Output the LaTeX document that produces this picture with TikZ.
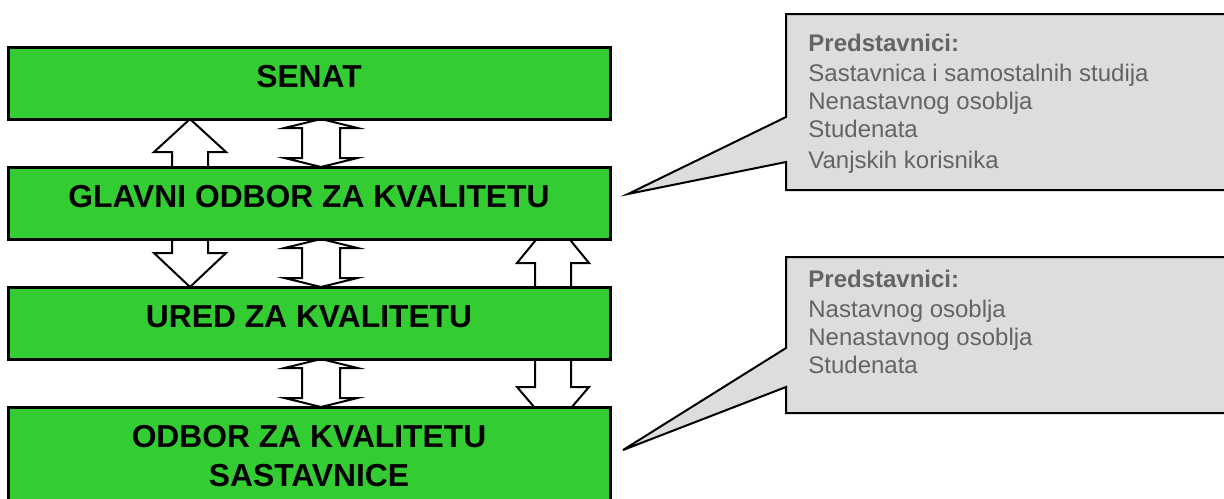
\documentclass[tikz,border=0pt]{standalone}
\usepackage{fontspec}
\setmainfont{Liberation Sans}
\usepackage{xcolor}
\usetikzlibrary{positioning}
\usetikzlibrary{calc}
\usetikzlibrary{backgrounds}

\definecolor{boxgreen}{RGB}{51,204,51}
\definecolor{notegray}{RGB}{221,221,221}
\definecolor{notetext}{RGB}{100,100,100}

% hollow block arrows: #1 base, #2 tip, #3 head length
\newcommand{\blockarrow}[3]{%
  \draw[barrow] ($(#1)+(-9pt,0)$) -- ($(#2)!#3!(#1)+(-9pt,0)$)
    -- ($(#2)!#3!(#1)+(-18pt,0)$) -- (#2)
    -- ($(#2)!#3!(#1)+(18pt,0)$) -- ($(#2)!#3!(#1)+(9pt,0)$)
    -- ($(#1)+(9pt,0)$) -- cycle;}
% #1 top tip, #2 bottom tip, #3 head length
\newcommand{\blockboth}[3]{%
  \draw[barrow] (#1) -- ($(#1)!#3!(#2)+(18.25pt,0)$) -- ($(#1)!#3!(#2)+(9.5pt,0)$)
    -- ($(#2)!#3!(#1)+(9.5pt,0)$) -- ($(#2)!#3!(#1)+(18.25pt,0)$) -- (#2)
    -- ($(#2)!#3!(#1)+(-18.25pt,0)$) -- ($(#2)!#3!(#1)+(-9.5pt,0)$)
    -- ($(#1)!#3!(#2)+(-9.5pt,0)$) -- ($(#1)!#3!(#2)+(-18.25pt,0)$) -- cycle;}

\begin{document}
\begin{tikzpicture}[
x=0.5pt, y=-0.5pt,
box/.style={rectangle, draw=black, line width=1.5pt, fill=boxgreen, outer sep=0pt,
  minimum width=301pt, inner ysep=0pt, text height=20pt, text depth=16pt,
  font=\fontsize{15.9pt}{19.5pt}\selectfont\bfseries, align=center},
barrow/.style={draw=black, line width=1pt, fill=white, line join=miter},
note/.style={draw=black, line width=1pt, fill=notegray},
notetext/.style={text=notetext, inner sep=0pt, align=left,
  font=\fontsize{12pt}{14pt}\selectfont},
]
\useasboundingbox (0,0) rectangle (1224,498);
\clip (0,0) rectangle (1224,498);

%Boxes
\node[box] (senat) at (309,83) {SENAT};
\node[box, below=24pt of senat] (glavni) {GLAVNI ODBOR ZA KVALITETU};
\node[box, below=24pt of glavni] (ured) {URED ZA KVALITETU};
\node[box, below=24pt of ured, text height=39.5pt, text depth=22.5pt] (odbor)
  {ODBOR ZA KVALITETU\\SASTAVNICE};

%Arrows
\coordinate (xl) at (190,0);
\coordinate (xm) at (321,0);
\coordinate (xr) at (553,0);
\coordinate (upr) at ($(glavni.south -| xr)+(0,-20)$);
\coordinate (dnr) at ($(odbor.north -| xr)+(0,22)$);
\begin{scope}[on background layer]
\blockarrow{glavni.north -| xl}{senat.south -| xl}{16.5pt}
\blockarrow{glavni.south -| xl}{ured.north -| xl}{17pt}
\blockboth{senat.south -| xm}{glavni.north -| xm}{4.5pt}
\blockboth{glavni.south -| xm}{ured.north -| xm}{4.5pt}
\blockboth{ured.south -| xm}{odbor.north -| xm}{4.5pt}
\blockarrow{ured.north -| xr}{upr}{22pt}
\blockarrow{ured.south -| xr}{dnr}{21pt}
\end{scope}

%Callouts
\coordinate (tip1) at (628,194);
\coordinate (tip2) at (623,450);
\draw[note] (786,14) -- (1240,14) -- (1240,190) -- (786,190) -- (786,162)
  -- (tip1) -- (786,117) -- cycle;
\draw[note] (786,257) -- (1240,257) -- (1240,413) -- (786,413) -- (786,387)
  -- (tip2) -- (786,348) -- cycle;
\node[notetext, anchor=base west] (rep1) at (808,168)
  {\textbf{Predstavnici:}\\[1pt] Sastavnica i samostalnih studija\\
   Nenastavnog osoblja\\ Studenata\\[1.5pt] Vanjskih korisnika};
\node[notetext, anchor=base west] (rep2) at (808,373)
  {\textbf{Predstavnici:}\\[1pt] Nastavnog osoblja\\
   Nenastavnog osoblja\\ Studenata};
\end{tikzpicture}
\end{document}
